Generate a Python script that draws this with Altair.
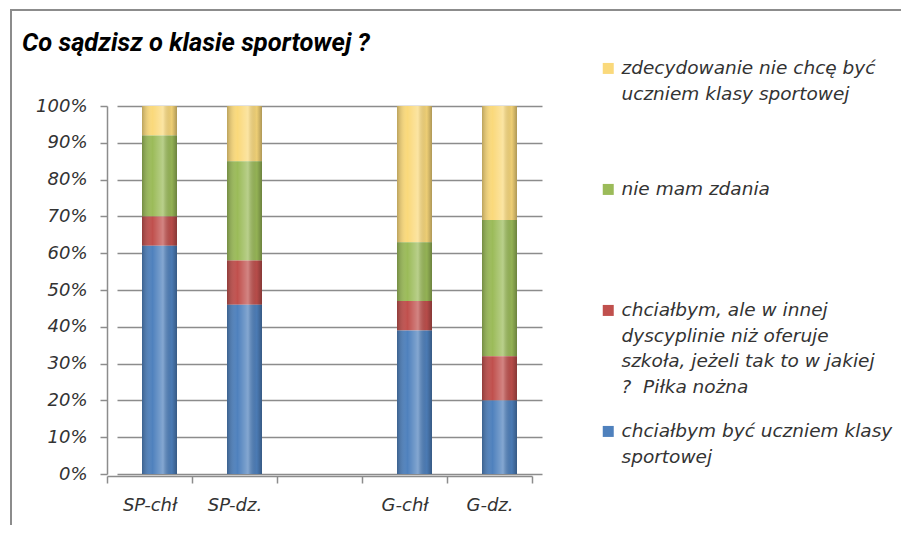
import altair as alt
import pandas as pd

# ---- data ----
categories = ["SP-chł", "SP-dz.", " ", "G-chł", "G-dz."]   # " " is the empty slot between the groups
groups = ["SP-chł", "SP-dz.", "G-chł", "G-dz."]
series = [
    "zdecydowanie nie chcę być|uczniem klasy sportowej",
    "nie mam zdania",
    "chciałbym, ale w innej|dyscyplinie niż oferuje|szkoła, jeżeli tak to w jakiej|?\u00a0 Piłka nożna",
    "chciałbym być uczniem klasy|sportowej",
]
colors = ["#FAD97B", "#9BBB59", "#C0504D", "#4F81BD"]
stack_rank = [3, 2, 1, 0]
v_yellow = [8, 15, 37, 31]
v_green = [22, 27, 16, 37]
v_red = [8, 12, 8, 12]
v_blue = [62, 46, 39, 20]
y_ticks = [0, 0.1, 0.2, 0.3, 0.4, 0.5, 0.6, 0.7, 0.8, 0.9, 1.0]
title_text = "Co sądzisz o klasie sportowej ?"

rows = []
for s, vals, rank in zip(series, [v_yellow, v_green, v_red, v_blue], stack_rank):
    for g, v in zip(groups, vals):
        rows.append({"group": g, "answer": s, "share": v, "rank": rank})
df = pd.DataFrame(rows)

FONT = "DejaVu Sans"
GRID = "#8c8c8c"
TXT = "#333333"

x_enc = alt.X(
    "group:N",
    scale=alt.Scale(domain=categories, paddingInner=0, paddingOuter=0),
    axis=alt.Axis(
        title=None, labelAngle=0, tickBand="extent", translate=-9.5, offset=12,
        domainColor=GRID, domainWidth=1.5, tickColor=GRID, tickWidth=1.5, tickSize=7,
        labelPadding=13, labelFont=FONT, labelFontSize=18, labelFontStyle="italic",
        labelColor=TXT, grid=False,
    ),
)
y_enc = alt.Y(
    "share:Q",
    stack="normalize",
    scale=alt.Scale(domain=[0, 1]),
    axis=alt.Axis(
        title=None, values=y_ticks, format=".0%", offset=10,
        domainColor=GRID, domainWidth=1.5, tickColor=GRID, tickWidth=1.5, tickSize=7,
        labelPadding=13, labelFont=FONT, labelFontSize=18, labelFontStyle="italic",
        labelColor=TXT, grid=True, gridColor=GRID, gridWidth=1.5,
    ),
)

legend = alt.Legend(
    title=None, orient="none", legendX=482, legendY=-56, direction="vertical",
    labelExpr="split(datum.label, '|')", labelFont=FONT, labelFontSize=18.5,
    labelFontStyle="italic", labelColor=TXT, labelLimit=600, labelBaseline="top",
    labelOffset=4, symbolType="M-1,0.67L1,0.67L1,2.67L-1,2.67Z", symbolSize=121,
    symbolStrokeWidth=0, symbolOpacity=1, rowPadding=16, gridAlign="all",
)

bars = alt.Chart(df).mark_bar(size=35).encode(
    x=x_enc,
    y=y_enc,
    color=alt.Color("answer:N", scale=alt.Scale(domain=series, range=colors), legend=legend),
    order=alt.Order("rank:Q"),
)

shade = alt.Chart(df).mark_bar(
    size=35,
    fill=alt.LinearGradient(
        gradient="linear", x1=0, x2=1, y1=0, y2=0,
        stops=[
            alt.GradientStop(color="rgba(0,0,0,0.25)", offset=0),
            alt.GradientStop(color="rgba(255,255,255,0)", offset=0.3),
            alt.GradientStop(color="rgba(255,255,255,0.3)", offset=0.6),
            alt.GradientStop(color="rgba(0,0,0,0.05)", offset=0.85),
            alt.GradientStop(color="rgba(0,0,0,0.3)", offset=1),
        ],
    ),
).encode(x=x_enc, y=y_enc, detail="answer:N", order=alt.Order("rank:Q"))

border = alt.Chart(pd.DataFrame({"k": [0]})).mark_rect(
    filled=False, stroke=GRID, strokeWidth=2
).encode(x=alt.value(-106), x2=alt.value(900), y=alt.value(-96), y2=alt.value(700))

chart = alt.layer(border, bars, shade).properties(
    width=425,
    height=368,
    padding={"left": 109, "top": 98, "right": 359, "bottom": 51},
    autosize=alt.AutoSizeParams(type="none"),
    background="white",
    title=alt.Title(
        title_text, anchor="start", frame="group", dx=-95, offset=0, dy=72,
        baseline="bottom",
        font="Roboto", fontSize=25.5, fontStyle="italic",
        fontWeight="bold", color="black",
    ),
).configure(style={"guide-label": {"lineHeight": 25.5}}).configure_view(stroke=None)

chart.save("out.html", embed_options={"renderer": "svg", "actions": False})
